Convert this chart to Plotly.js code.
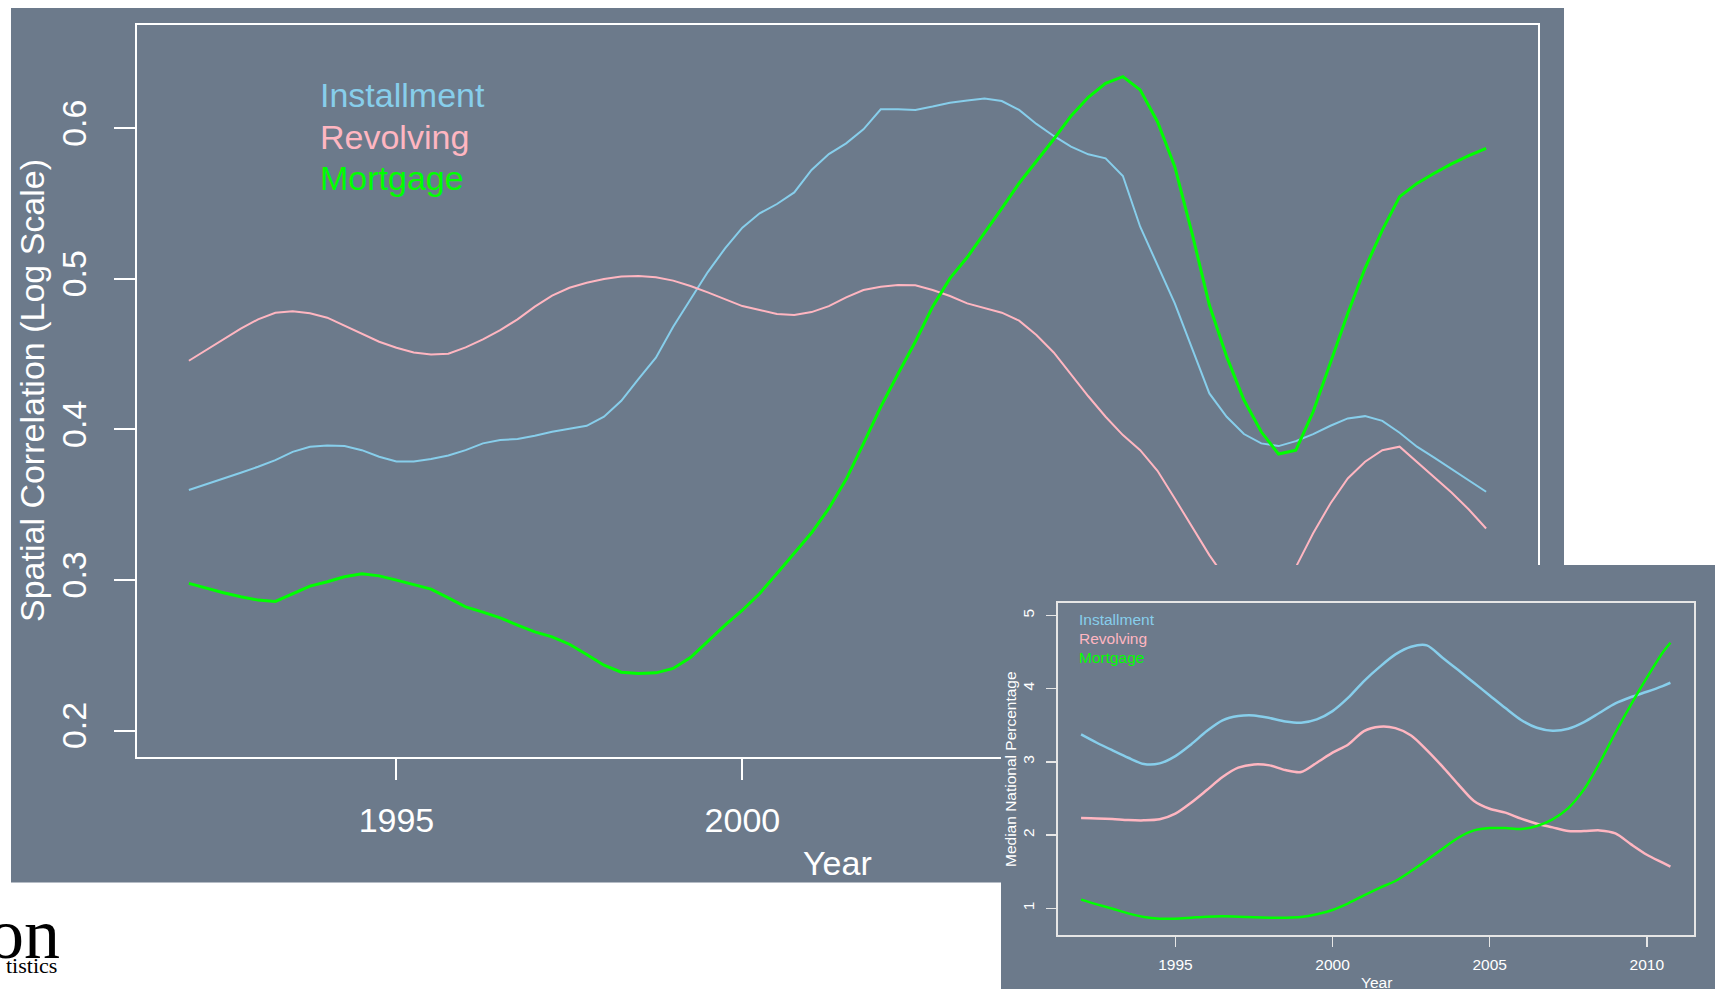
<!DOCTYPE html>
<html>
<head>
<meta charset="utf-8">
<script src="https://cdn.plot.ly/plotly-3.0.1.min.js"></script>
<style>
  html, body { margin: 0; padding: 0; background: #ffffff; }
  #chart { width: 1715px; height: 989px; }
</style>
</head>
<body>
<div id="chart"></div>
<script>
// Quarterly spatial correlation, 1992 Q1 .. 2010 Q4
const firstQuarterYear = 1992;

const installmentCorr = [
  0.3597, 0.3634, 0.3672, 0.3712, 0.3752, 0.3796, 0.3851, 0.3885, 0.3893, 0.3889,
  0.3862, 0.3818, 0.3787, 0.3787, 0.3803, 0.3827, 0.3862, 0.3907, 0.3929, 0.3936,
  0.3958, 0.3984, 0.4004, 0.4024, 0.4084, 0.4190, 0.4335, 0.4476, 0.4682, 0.4859,
  0.5045, 0.5202, 0.5340, 0.5435, 0.5497, 0.5574, 0.5723, 0.5829, 0.5900, 0.5993,
  0.6126, 0.6126, 0.6122, 0.6144, 0.6170, 0.6184, 0.6197, 0.6181, 0.6122, 0.6029,
  0.5949, 0.5878, 0.5827, 0.5800, 0.5683, 0.5346, 0.5092, 0.4837, 0.4538, 0.4239,
  0.4084, 0.3969, 0.3907, 0.3889, 0.3922, 0.3969, 0.4024, 0.4073, 0.4088, 0.4057,
  0.3978, 0.3885, 0.3812, 0.3738, 0.3663, 0.3586
];

const revolvingCorr = [
  0.4456, 0.4527, 0.4598, 0.4669, 0.4731, 0.4775, 0.4784, 0.4771, 0.4742, 0.4689,
  0.4633, 0.4582, 0.4542, 0.4511, 0.4498, 0.4503, 0.4545, 0.4598, 0.4660, 0.4731,
  0.4815, 0.4888, 0.4941, 0.4974, 0.4999, 0.5016, 0.5019, 0.5010, 0.4988, 0.4952,
  0.4910, 0.4864, 0.4819, 0.4793, 0.4766, 0.4760, 0.4779, 0.4819, 0.4877, 0.4926,
  0.4948, 0.4959, 0.4957, 0.4926, 0.4886, 0.4837, 0.4804, 0.4775, 0.4722, 0.4627,
  0.4511, 0.4363, 0.4220, 0.4084, 0.3962, 0.3862, 0.3725, 0.3541, 0.3353, 0.3165,
  0.3000, 0.2870, 0.2800, 0.2880, 0.3085, 0.3310, 0.3508, 0.3674, 0.3785, 0.3862,
  0.3885, 0.3785, 0.3685, 0.3581, 0.3468, 0.3342
];

const mortgageCorr = [
  0.2977, 0.2944, 0.2915, 0.2888, 0.2866, 0.2857, 0.2910, 0.2959, 0.2988, 0.3021,
  0.3041, 0.3027, 0.2999, 0.2970, 0.2939, 0.2881, 0.2821, 0.2786, 0.2748, 0.2700,
  0.2655, 0.2622, 0.2573, 0.2505, 0.2434, 0.2387, 0.2378, 0.2383, 0.2412, 0.2485,
  0.2596, 0.2700, 0.2799, 0.2910, 0.3043, 0.3176, 0.3313, 0.3475, 0.3668, 0.3905,
  0.4150, 0.4370, 0.4582, 0.4815, 0.5003, 0.5143, 0.5302, 0.5468, 0.5635, 0.5778,
  0.5927, 0.6082, 0.6206, 0.6299, 0.6343, 0.6255, 0.6044, 0.5745, 0.5302, 0.4826,
  0.4483, 0.4195, 0.3984, 0.3836, 0.3862, 0.4117, 0.4449, 0.4770, 0.5070, 0.5324,
  0.5546, 0.5634, 0.5701, 0.5763, 0.5818, 0.5867
];

const quarterYears = installmentCorr.map((_, i) => firstQuarterYear + i / 4);

// Median national percentage (half-yearly readings)
const medianYears = [
  1992, 1992.5, 1993, 1993.5, 1994, 1994.5, 1995, 1995.5, 1996, 1996.5,
  1997, 1997.5, 1998, 1998.5, 1999, 1999.5, 2000, 2000.5, 2001, 2001.5,
  2002, 2002.5, 2003, 2003.5, 2004, 2004.5, 2005, 2005.5, 2006, 2006.5,
  2007, 2007.5, 2008, 2008.5, 2009, 2009.5, 2010, 2010.5, 2010.75
];
const installmentMedian = [
  3.375, 3.261, 3.157, 3.056, 2.970, 2.979, 3.079, 3.238, 3.420, 3.566,
  3.625, 3.634, 3.598, 3.552, 3.534, 3.580, 3.693, 3.876, 4.103, 4.297,
  4.467, 4.572, 4.590, 4.422, 4.253, 4.080, 3.907, 3.734, 3.571, 3.466,
  3.425, 3.452, 3.543, 3.671, 3.798, 3.885, 3.957, 4.035, 4.080
];
const revolvingMedian = [
  2.233, 2.228, 2.219, 2.205, 2.201, 2.215, 2.292, 2.442, 2.615, 2.792,
  2.920, 2.965, 2.952, 2.888, 2.861, 2.988, 3.125, 3.238, 3.420, 3.480,
  3.461, 3.361, 3.161, 2.934, 2.692, 2.465, 2.360, 2.306, 2.224, 2.155,
  2.105, 2.055, 2.055, 2.064, 2.023, 1.873, 1.732, 1.623, 1.568
];
const mortgageMedian = [
  1.118, 1.054, 0.995, 0.931, 0.881, 0.859, 0.859, 0.872, 0.886, 0.890,
  0.886, 0.877, 0.872, 0.872, 0.881, 0.918, 0.977, 1.068, 1.177, 1.280,
  1.373, 1.509, 1.659, 1.814, 1.964, 2.064, 2.096, 2.096, 2.083, 2.124,
  2.215, 2.369, 2.624, 2.988, 3.398, 3.785, 4.149, 4.490, 4.626
];

const yearTicks = [1995, 2000, 2005, 2010];
const yearTickLabels = ['1995', '2000', '2005', '2010'];
const corrTicks = [0.2, 0.3, 0.4, 0.5, 0.6];
const corrTickLabels = ['0.2', '0.3', '0.4', '0.5', '0.6'];
const pctTicks = [1, 2, 3, 4, 5];
const pctTickLabels = ['1', '2', '3', '4', '5'];
const seriesNames = ['Installment', 'Revolving', 'Mortgage'];

// ---- styling ----
const W = 1715, H = 989;
const px = v => v / W;            // pixel -> paper x
const py = v => 1 - v / H;        // pixel -> paper y
const SANS = 'Liberation Sans, Arial, Helvetica, sans-serif';
const SERIF = 'Liberation Serif, Times New Roman, serif';
const PANEL = '#6c7a8b';
const COLORS = ['#87ceeb', '#ffb6c1', '#00ff00'];

const traces = [
  { x: quarterYears, y: installmentCorr, name: seriesNames[0], mode: 'lines',
    line: { color: COLORS[0], width: 2 }, xaxis: 'x', yaxis: 'y' },
  { x: quarterYears, y: revolvingCorr, name: seriesNames[1], mode: 'lines',
    line: { color: COLORS[1], width: 2 }, xaxis: 'x', yaxis: 'y' },
  { x: quarterYears, y: mortgageCorr, name: seriesNames[2], mode: 'lines',
    line: { color: COLORS[2], width: 3 }, xaxis: 'x', yaxis: 'y' },
  // backing panel of the small chart (covers the large chart beneath it)
  { x: [], y: [], mode: 'lines', xaxis: 'x2', yaxis: 'y2', hoverinfo: 'skip' },
  { x: medianYears, y: installmentMedian, name: seriesNames[0], mode: 'lines',
    line: { color: COLORS[0], width: 2.5, shape: 'spline', smoothing: 0.8 }, xaxis: 'x3', yaxis: 'y3' },
  { x: medianYears, y: revolvingMedian, name: seriesNames[1], mode: 'lines',
    line: { color: COLORS[1], width: 2.5, shape: 'spline', smoothing: 0.8 }, xaxis: 'x3', yaxis: 'y3' },
  { x: medianYears, y: mortgageMedian, name: seriesNames[2], mode: 'lines',
    line: { color: COLORS[2], width: 2.5, shape: 'spline', smoothing: 0.8 }, xaxis: 'x3', yaxis: 'y3' }
];

const bigAxis = {
  showline: true, mirror: true, linecolor: '#ffffff', linewidth: 2,
  ticks: 'outside', ticklen: 21, tickwidth: 2, tickcolor: '#ffffff',
  tickfont: { family: SANS, size: 34, color: '#ffffff' },
  showgrid: false, zeroline: false, fixedrange: true
};
const smallAxis = {
  showline: true, mirror: true, linecolor: '#e6e6e6', linewidth: 1.5,
  ticks: 'outside', ticklen: 10, tickwidth: 1.5, tickcolor: '#e6e6e6',
  tickfont: { family: SANS, size: 15.5, color: '#ffffff' },
  showgrid: false, zeroline: false, fixedrange: true
};

function label(text, x, y, size, color, opts) {
  return Object.assign({
    text: text, xref: 'paper', yref: 'paper', x: px(x), y: py(y),
    xanchor: 'center', yanchor: 'middle', showarrow: false,
    font: { family: SANS, size: size, color: color }
  }, opts || {});
}

const annotations = [
  // large chart legend
  label(seriesNames[0], 318, 95, 34, COLORS[0], { xanchor: 'left' }),
  label(seriesNames[1], 318, 137, 34, COLORS[1], { xanchor: 'left' }),
  label(seriesNames[2], 318, 178, 34, COLORS[2], { xanchor: 'left' }),
  // large chart axis titles
  label('Spatial Correlation (Log Scale)', 32, 391, 34, '#ffffff', { textangle: -90 }),
  label('Year', 837.5, 863, 34, '#ffffff'),
  // small chart legend
  label(seriesNames[0], 1077, 619, 15.5, COLORS[0], { xanchor: 'left' }),
  label(seriesNames[1], 1077, 638, 15.5, COLORS[1], { xanchor: 'left' }),
  label(seriesNames[2], 1077, 657, 15.5, COLORS[2], { xanchor: 'left' }),
  // small chart axis titles
  label('Median National Percentage', 1010, 769, 15.5, '#ffffff', { textangle: -90 }),
  label('Year', 1376, 982.5, 15.5, '#ffffff'),
  // letterhead fragments at the lower left
  label('on', 62, 934, 72, '#000000', { xanchor: 'right', font: { family: SERIF, size: 72, color: '#000000' } }),
  label('tistics', 59, 965, 22, '#000000', { xanchor: 'right', font: { family: SERIF, size: 22, color: '#000000' } })
];

const layout = {
  width: W, height: H,
  margin: { l: 0, r: 0, t: 0, b: 0, pad: 0 },
  paper_bgcolor: '#ffffff',
  plot_bgcolor: PANEL,
  showlegend: false,
  hovermode: false,
  xaxis: Object.assign({}, bigAxis, {
    domain: [px(137), px(1538)], range: [1991.25, 2011.5], anchor: 'y',
    tickvals: yearTicks, ticktext: yearTickLabels, ticklabelstandoff: 11
  }),
  yaxis: Object.assign({}, bigAxis, {
    domain: [py(757.3), py(25)], range: [0.1822, 0.6686], anchor: 'x',
    tickvals: corrTicks, ticktext: corrTickLabels, tickangle: -90, ticklabelstandoff: 14
  }),
  xaxis2: { domain: [px(1001), 1], range: [0, 1], anchor: 'y2', visible: false, fixedrange: true },
  yaxis2: { domain: [0, py(565)], range: [0, 1], anchor: 'x2', visible: false, fixedrange: true },
  xaxis3: Object.assign({}, smallAxis, {
    domain: [px(1057.5), px(1694)], range: [1991.25, 2011.5], anchor: 'y3',
    tickvals: yearTicks, ticktext: yearTickLabels, ticklabelstandoff: 5
  }),
  yaxis3: Object.assign({}, smallAxis, {
    domain: [py(935), py(602.8)], range: [0.6355, 5.172], anchor: 'x3',
    tickvals: pctTicks, ticktext: pctTickLabels, tickangle: -90, ticklabelstandoff: 6
  }),
  shapes: [
    // slate panel behind the large chart
    { type: 'rect', xref: 'paper', yref: 'paper', layer: 'below',
      x0: px(11), x1: px(1564), y0: py(882.5), y1: py(8),
      fillcolor: PANEL, line: { width: 0 } }
  ],
  annotations: annotations
};

Plotly.newPlot('chart', traces, layout, { displayModeBar: false, staticPlot: true });
</script>
</body>
</html>
